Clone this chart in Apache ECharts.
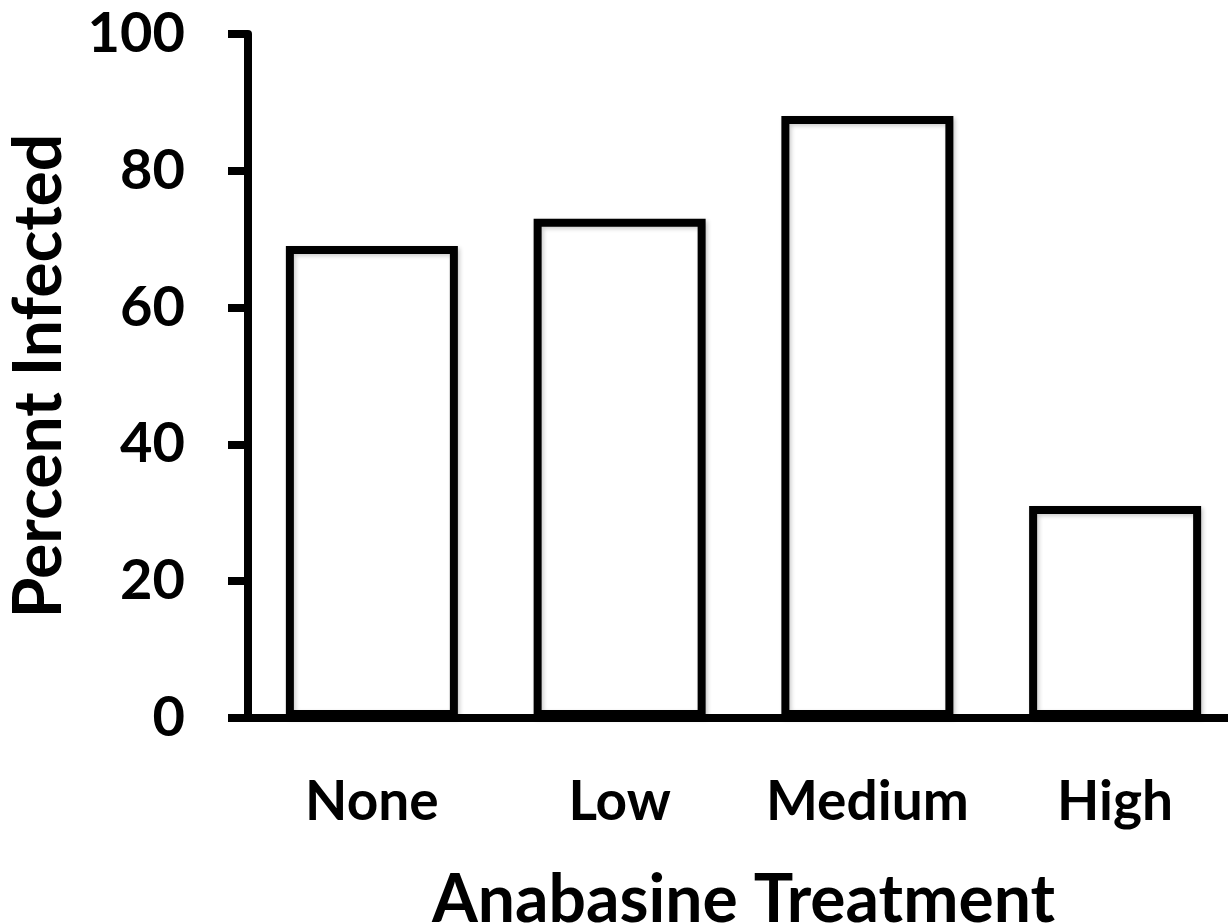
<!DOCTYPE html>
<html>
<head>
<meta charset="utf-8">
<script src="https://cdn.jsdelivr.net/npm/echarts@6/dist/echarts.min.js"></script>
<style>
  html, body { margin: 0; padding: 0; background: #fff; }
  #main { width: 1228px; height: 924px; }
</style>
</head>
<body>
<div id="main"></div>
<script>
// data
const treatments = ['None', 'Low', 'Medium', 'High'];
const percentInfected = [69, 73, 88, 31];
const yTicks = { min: 0, max: 100, interval: 20 };

const myChart = echarts.init(document.getElementById('main'));
const font = 'Lato';

const option = {
  backgroundColor: '#ffffff',
  animation: false,
  grid: { left: 248, right: -11, top: 34, bottom: 206, containLabel: false, outerBoundsMode: 'none' },
  xAxis: {
    type: 'category',
    data: treatments,
    name: 'Anabasine Treatment',
    nameLocation: 'middle',
    nameGap: 150,
    nameTextStyle: { fontFamily: font, fontWeight: 'bold', fontSize: 66, color: '#000' },
    axisLine: { lineStyle: { color: '#000', width: 8 } },
    axisTick: { show: false },
    axisLabel: { interval: 0, hideOverlap: false, margin: 57, fontFamily: font, fontWeight: 'bold', fontSize: 55, color: '#000' }
  },
  yAxis: {
    type: 'value',
    min: yTicks.min,
    max: yTicks.max,
    interval: yTicks.interval,
    name: 'Percent Infected',
    nameLocation: 'middle',
    nameGap: 175,
    nameTextStyle: { fontFamily: font, fontWeight: 'bold', fontSize: 66, color: '#000' },
    axisLine: { show: true, lineStyle: { color: '#000', width: 8 } },
    axisTick: { show: true, length: 20, lineStyle: { color: '#000', width: 8 } },
    axisLabel: { margin: 63, fontFamily: font, fontWeight: 'bold', fontSize: 56, color: '#000' },
    splitLine: { show: false }
  },
  series: [
    {
      type: 'bar',
      data: percentInfected,
      barWidth: 172,
      itemStyle: {
        color: '#fff',
        borderColor: '#000',
        borderWidth: 8,
        shadowColor: 'rgba(0,0,0,0.2)',
        shadowBlur: 4,
        shadowOffsetX: 2,
        shadowOffsetY: 2
      }
    }
  ]
};

myChart.setOption(option);
</script>
</body>
</html>
